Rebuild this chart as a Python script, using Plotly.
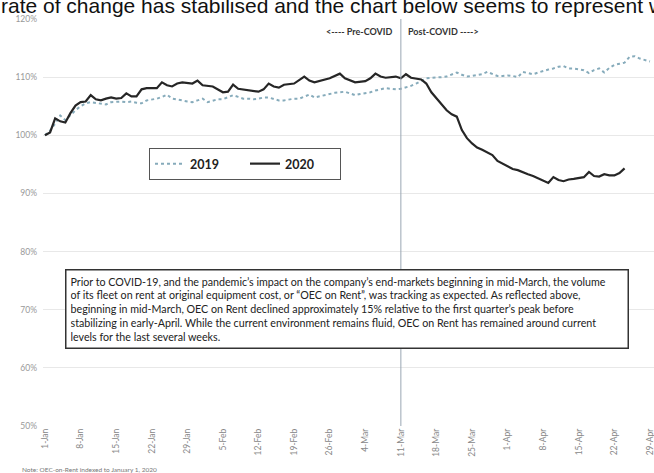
import datetime as dt
import plotly.graph_objects as go

# ---------------- data ----------------
start_date = dt.date(2020, 1, 1)

days_2019 = list(range(0, 120))
values_2019 = [100.0, 100.8, 102.0, 103.4, 102.6, 103.5, 104.3, 105.0, 105.5, 105.7,
               105.6, 105.5, 105.3, 105.7, 105.8, 105.8, 105.7, 105.8, 105.6, 105.5,
               106.0, 106.1, 106.3, 106.6, 107.0, 106.3, 106.2, 106.0, 105.8, 105.7,
               106.0, 106.3, 105.7, 105.9, 106.2, 106.2, 106.5, 106.9, 106.6, 106.3,
               106.3, 106.2, 106.3, 106.5, 106.5, 106.2, 106.0, 106.0, 106.2, 106.3,
               106.3, 106.6, 107.0, 106.5, 106.7, 107.0, 107.2, 107.3, 107.4, 107.5,
               107.2, 106.9, 107.1, 107.2, 107.4, 107.7, 107.9, 108.1, 108.0, 107.9,
               108.0, 108.2, 108.5, 108.9, 109.4, 109.8, 109.9, 109.9, 110.0, 110.1,
               110.5, 110.8, 110.4, 110.1, 110.2, 110.3, 110.5, 110.9, 110.6, 110.2,
               110.2, 110.3, 110.2, 110.0, 110.9, 110.7, 110.5, 110.8, 111.1, 111.3,
               111.5, 111.8, 111.9, 111.5, 111.5, 111.4, 111.2, 110.7, 111.2, 111.5,
               110.8, 111.6, 112.1, 112.3, 112.5, 113.5, 113.6, 113.2, 112.9, 112.7]

days_2020 = [0, 1, 2, 3, 4, 5, 6, 7, 8, 9, 10, 11, 12, 13, 14, 15, 16, 17, 18, 19,
             20, 22, 23, 24, 25, 26, 27, 29, 30, 31, 33, 35, 36, 37, 38, 40, 42, 43,
             44, 45, 46, 47, 49, 51, 52, 53, 55, 56, 58, 59, 61, 63, 64, 65, 66, 67,
             69, 70, 71, 72, 74, 75, 76, 77, 79, 80, 81, 82, 83, 84, 85, 86, 87, 88,
             89, 90, 91, 92, 93, 94, 95, 96, 97, 98, 99, 100, 101, 102, 103, 104,
             105, 106, 107, 108, 109, 110, 111, 112, 113, 114]
values_2020 = [100.0, 100.5, 102.9, 102.4, 102.2, 103.8, 105.1, 105.7, 105.8, 106.9,
               106.2, 106.0, 106.3, 106.5, 106.3, 106.4, 107.2, 106.7, 106.7, 107.9,
               108.1, 108.1, 109.1, 108.6, 108.4, 108.9, 109.1, 108.9, 109.4, 108.6,
               108.4, 107.4, 107.5, 108.7, 108.0, 107.7, 107.5, 107.9, 108.9, 108.4,
               108.2, 108.7, 108.9, 110.1, 109.4, 109.1, 109.6, 109.8, 110.6, 109.8,
               109.1, 109.3, 109.8, 110.6, 110.1, 109.9, 110.1, 109.8, 110.5, 109.9,
               109.6, 108.9, 107.4, 106.3, 104.3, 103.6, 103.2, 100.9, 99.5, 98.6,
               97.9, 97.5, 97.1, 96.6, 95.6, 95.1, 94.6, 94.2, 94.0, 93.6,
               93.3, 93.0, 92.6, 92.2, 91.8, 92.8, 92.3, 92.1, 92.4, 92.5,
               92.6, 92.8, 93.7, 93.0, 92.9, 93.3, 93.1, 93.1, 93.5, 94.3]

tick_dates = ["2020-01-01", "2020-01-08", "2020-01-15", "2020-01-22", "2020-01-29",
              "2020-02-05", "2020-02-12", "2020-02-19", "2020-02-26", "2020-03-04",
              "2020-03-11", "2020-03-18", "2020-03-25", "2020-04-01", "2020-04-08",
              "2020-04-15", "2020-04-22", "2020-04-29"]
tick_labels = ["1-Jan", "8-Jan", "15-Jan", "22-Jan", "29-Jan", "5-Feb", "12-Feb",
               "19-Feb", "26-Feb", "4-Mar", "11-Mar", "18-Mar", "25-Mar", "1-Apr",
               "8-Apr", "15-Apr", "22-Apr", "29-Apr"]
y_ticks = [50, 60, 70, 80, 90, 100, 110, 120]
y_tick_labels = ["50%", "60%", "70%", "80%", "90%", "100%", "110%", "120%"]
covid_date = "2020-03-11"

header_text = "rate of change has stabilised and the chart below seems to represent w"
box_lines = [
    "Prior to COVID-19, and the pandemic\u2019s impact on the company\u2019s end-markets beginning in mid-March, the volume",
    "of its fleet on rent at original equipment cost, or \u201cOEC on Rent\u201d, was tracking as expected. As reflected above,",
    "beginning in mid-March, OEC on Rent declined approximately 15% relative to the first quarter\u2019s peak before",
    "stabilizing in early-April. While the current environment remains fluid, OEC on Rent has remained around current",
    "levels for the last several weeks.",
]
note_text = "Note: OEC-on-Rent indexed to January 1, 2020"

# ---------------- figure ----------------
x19 = [start_date + dt.timedelta(days=d) for d in days_2019]
x20 = [start_date + dt.timedelta(days=d) for d in days_2020]

fig = go.Figure()
fig.add_trace(go.Scatter(x=x19, y=values_2019, mode="lines", name="2019",
                         line=dict(color="#86abbb", width=2, dash="dot")))
fig.add_trace(go.Scatter(x=x20, y=values_2020, mode="lines", name="2020",
                         line=dict(color="#262626", width=2.2)))

W, H = 654, 473
ml, mr, mt, mb = 43, 0, 19, 47
pw, ph = W - ml - mr, H - mt - mb

def px_x(p):
    return (p - ml) / pw

def px_y(p):
    return (H - mb - p) / ph

x0 = dt.datetime(2020, 1, 1) - dt.timedelta(hours=9.4)
x1 = dt.datetime(2020, 4, 29) + dt.timedelta(hours=19)

fig.add_shape(type="line", xref="x", yref="paper", x0=covid_date, x1=covid_date,
              y0=0, y1=1, line=dict(color="#9aa7b3", width=1))

fig.add_annotation(x=covid_date, xref="x", y=px_y(31), yref="paper",
                   text="<b><---- Pre-COVID</b>", showarrow=False, xanchor="right",
                   yanchor="middle", xshift=-6,
                   font=dict(family="Lato", size=9, color="#333333"))
fig.add_annotation(x=covid_date, xref="x", y=px_y(31), yref="paper",
                   text="<b>Post-COVID ----></b>", showarrow=False, xanchor="left",
                   yanchor="middle", xshift=5,
                   font=dict(family="Lato", size=9, color="#333333"))

fig.add_annotation(x=px_x(65), xref="paper", y=px_y(269), yref="paper",
                   text="<br>".join(box_lines), showarrow=False, xanchor="left",
                   yanchor="top", align="left", width=553,
                   bordercolor="#333333", borderwidth=1.5, borderpad=4,
                   bgcolor="white",
                   font=dict(family="Lato", size=10.7, color="#222222"))

fig.add_annotation(x=px_x(-1), xref="paper", y=px_y(19), yref="paper",
                   text=header_text, showarrow=False, xanchor="left",
                   yanchor="bottom",
                   font=dict(family="Liberation Sans", size=21, color="#111111"))

fig.add_annotation(x=px_x(20), xref="paper", y=px_y(469), yref="paper",
                   text=note_text, showarrow=False, xanchor="left",
                   yanchor="middle",
                   font=dict(family="Lato", size=6.5, color="#777777"))

fig.update_layout(
    width=W, height=H,
    margin=dict(l=ml, r=mr, t=mt, b=mb),
    paper_bgcolor="white", plot_bgcolor="white",
    showlegend=True,
    legend=dict(orientation="h", x=px_x(149), y=px_y(148), xanchor="left",
                yanchor="top", bordercolor="#555555", borderwidth=1,
                bgcolor="white", entrywidth=50, entrywidthmode="pixels",
                font=dict(family="Lato", size=12.5, color="#222222", weight="bold"),
                itemwidth=30),
    font=dict(family="Lato"),
)
fig.update_xaxes(type="date", range=[x0, x1], tickvals=tick_dates,
                 ticktext=tick_labels, tickangle=-90, showgrid=False,
                 zeroline=False, showline=False, ticks="",
                 ticklabeloverflow="allow",
                 tickfont=dict(family="Lato", size=8.5, color="#888888"))
fig.update_yaxes(range=[50, 120], tickvals=y_ticks, ticktext=y_tick_labels,
                 showgrid=True, gridcolor="#e8e8e8", gridwidth=1,
                 zeroline=False, showline=False, ticks="",
                 ticklabelstandoff=5,
                 tickfont=dict(family="Lato", size=8.5, color="#999999"))

fig.write_html("out.html",
               config={"displayModeBar": False},
               post_script="document.body.style.margin='0';")
